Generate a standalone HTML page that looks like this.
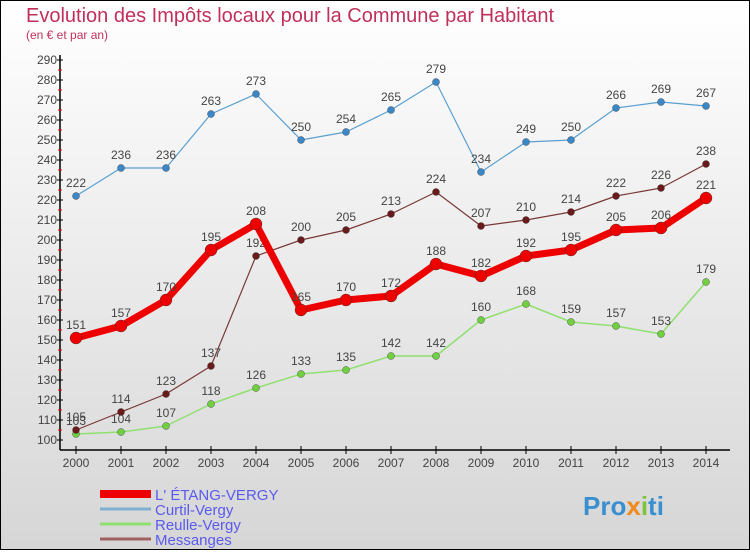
<!DOCTYPE html>
<html><head><meta charset="utf-8">
<style>
html,body{margin:0;padding:0;}
body{width:750px;height:550px;overflow:hidden;font-family:"Liberation Sans",sans-serif;}
</style></head>
<body>
<svg id="chart" width="750" height="550" xmlns="http://www.w3.org/2000/svg">
<defs>
<linearGradient id="bg" x1="0" y1="0" x2="0" y2="1">
<stop offset="0" stop-color="#ffffff"/><stop offset="1" stop-color="#d6d6d6"/>
</linearGradient>
</defs>
<rect x="0.5" y="0.5" width="749" height="549" fill="url(#bg)" stroke="#000" stroke-width="1"/>
<text x="26" y="22" font-size="20" fill="#c0305a">Evolution des Impôts locaux pour la Commune par Habitant</text>
<text x="26" y="39" font-size="12" fill="#c0305a">(en € et par an)</text>
<g id="axes"></g>
<g id="series"></g>
<g id="legend"></g>
<text x="583" y="515" font-size="26" font-weight="bold" fill="#3a8fd0">Pro<tspan fill="#f08a1c">x</tspan><tspan fill="#7cc43a">i</tspan>ti</text>
</svg>
<script>
const years = [2000,2001,2002,2003,2004,2005,2006,2007,2008,2009,2010,2011,2012,2013,2014];
const etang = [151,157,170,195,208,165,170,172,188,182,192,195,205,206,221];
const curtil = [222,236,236,263,273,250,254,265,279,234,249,250,266,269,267];
const reulle = [103,104,107,118,126,133,135,142,142,160,168,159,157,153,179];
const messanges = [105,114,123,137,192,200,205,213,224,207,210,214,222,226,238];
const yTicks = [100,110,120,130,140,150,160,170,180,190,200,210,220,230,240,250,260,270,280,290];
const names = ["L' ÉTANG-VERGY","Curtil-Vergy","Reulle-Vergy","Messanges"];

const NS="http://www.w3.org/2000/svg";
const x = i => 76 + i*45;
const y = v => 440 - (v-100)*2;
function mk(tag, attrs, parent){const e=document.createElementNS(NS,tag);for(const k in attrs)e.setAttribute(k,attrs[k]);parent.appendChild(e);return e;}
const axes=document.getElementById('axes');
const ax=mk('line',{x1:60,y1:55,x2:60,y2:450,stroke:'#000','stroke-width':1.5},axes);


const xa=mk('line',{x1:60,y1:450,x2:730,y2:450,stroke:'#000','stroke-width':1.5},axes);


yTicks.forEach((t,i)=>{
  mk('line',{x1:57,y1:y(t),x2:63,y2:y(t),stroke:'#000'},axes);
  if(i<yTicks.length-1) mk('line',{x1:58,y1:y(t+5),x2:62,y2:y(t+5),stroke:'#e00'},axes);
  const tx=mk('text',{x:57,y:y(t)+4,'font-size':12,'text-anchor':'end',fill:'#444'},axes);
  tx.textContent=t;
  
  
});
years.forEach((yr,i)=>{
  mk('line',{x1:x(i),y1:446,x2:x(i),y2:454,stroke:'#000'},axes);
  const tx=mk('text',{x:x(i),y:467,'font-size':12,'text-anchor':'middle',fill:'#444'},axes);
  tx.textContent=yr;
  
  
});
const ser=document.getElementById('series');
function draw(data,color,width,r,dotColor,name){
  const g=mk('g',{},ser);
  
  
  mk('polyline',{points:data.map((v,i)=>x(i)+','+y(v)).join(' '),fill:'none',stroke:color,'stroke-width':width,'stroke-linejoin':'round'},g);
  data.forEach((v,i)=>{
    const c=mk('circle',{cx:x(i),cy:y(v),r:r,fill:dotColor,stroke:'#333','stroke-width':0.4},g);
    
    
    const t=mk('text',{x:x(i),y:y(v)-9,'font-size':12,'text-anchor':'middle',fill:'#444'},g);
    t.textContent=v;
    
    
  });
}
draw(reulle,'#90e070',1.5,3.5,'#70d040','series-reulle-vergy');
draw(messanges,'#7a3838',1.2,3.5,'#6a1a1a','series-messanges');
draw(curtil,'#5aa0d0',1.2,3.5,'#3a88c8','series-curtil-vergy');
draw(etang,'#ee0000',7,6,'#ee0000','series-etang-vergy');
const lg=document.getElementById('legend');
const lc=['#ee0000','#7fb0d0','#90e070','#a06060'];
const lw=[8,3,3,3];
names.forEach((n,i)=>{
  const yy=494+i*15;
  const l=mk('line',{x1:100,y1:yy,x2:151,y2:yy,stroke:lc[i],'stroke-width':lw[i]},lg);
  
  
  const t=mk('text',{x:155,y:yy+6,'font-size':15,fill:'#5a5aee'},lg);
  t.textContent=n;
  
  
});
</script>
</body></html>
